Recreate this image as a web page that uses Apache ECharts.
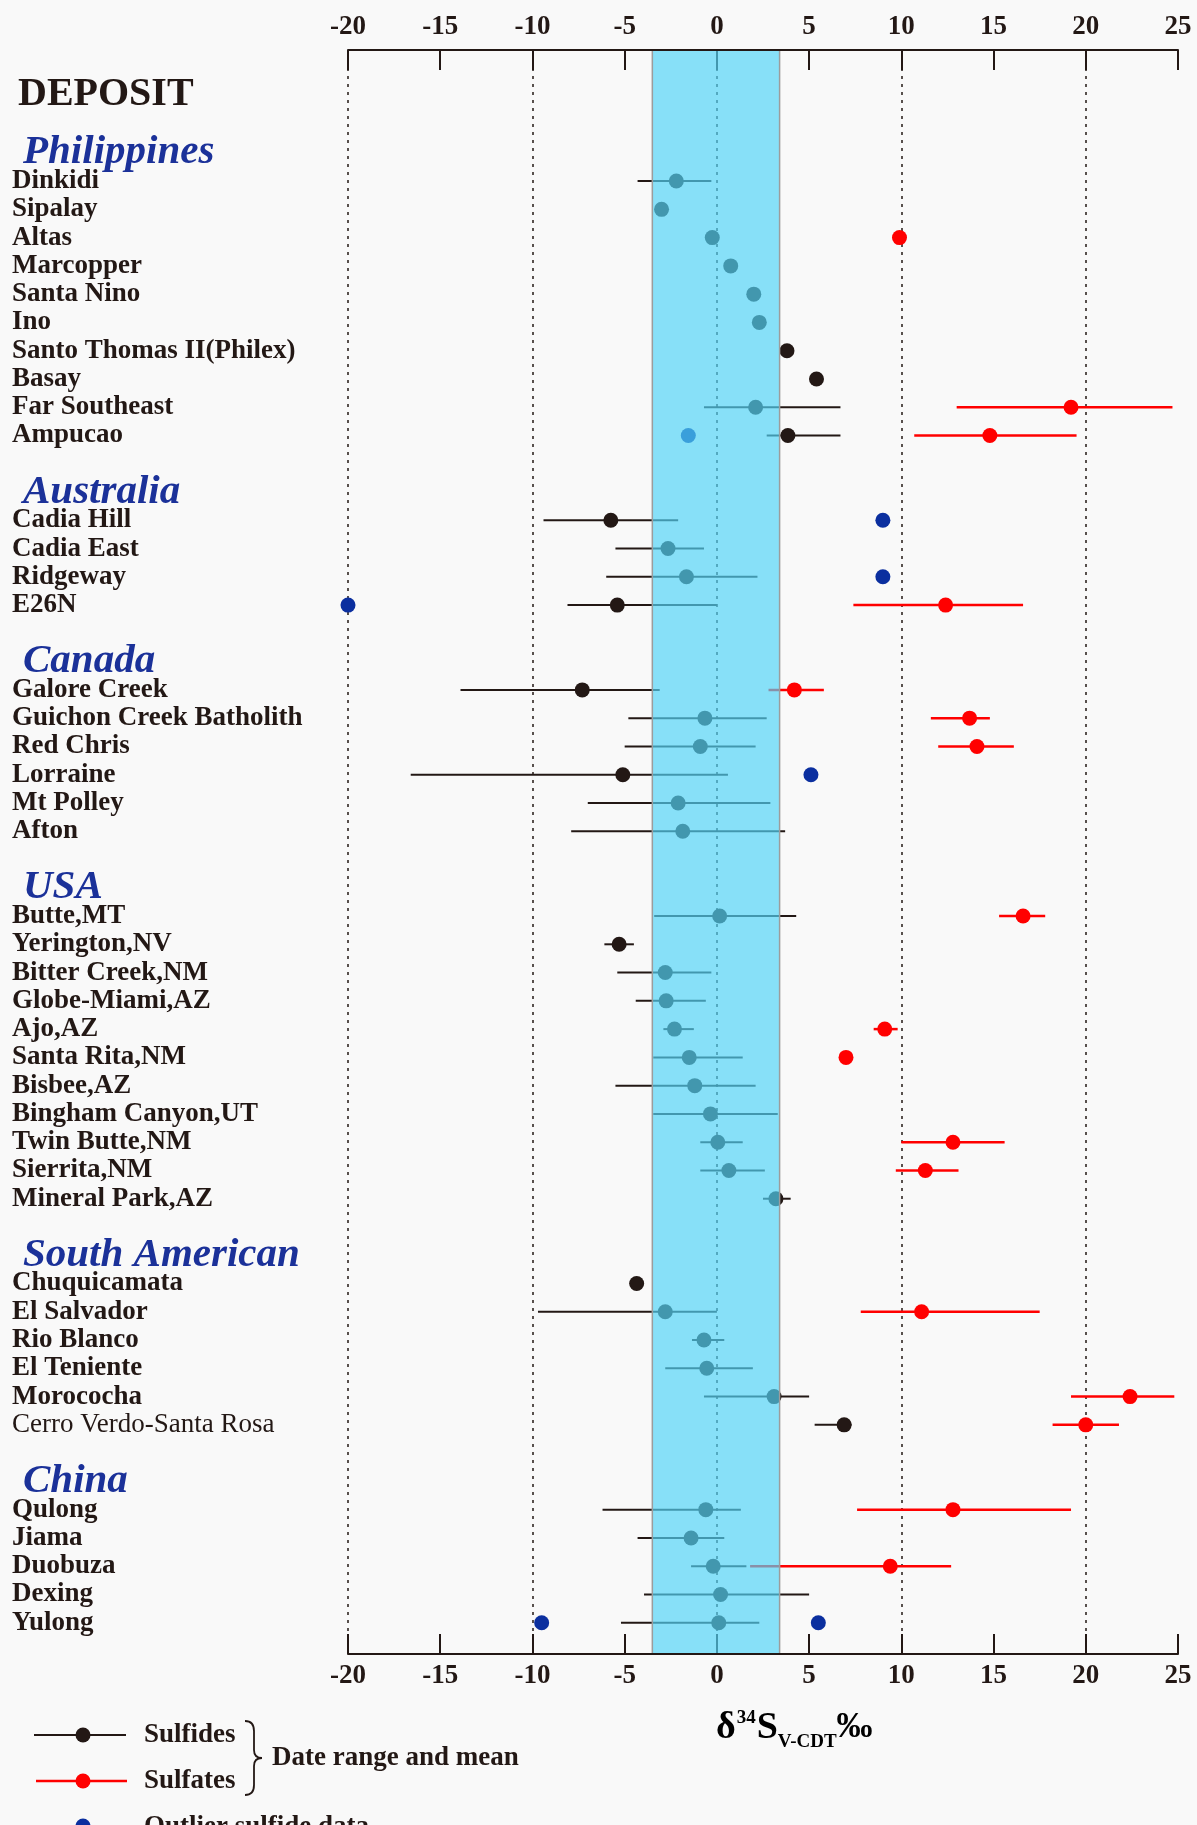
<!DOCTYPE html>
<html><head><meta charset="utf-8">
<script src="https://cdn.jsdelivr.net/npm/echarts@6/dist/echarts.min.js"></script>
<style>html,body{margin:0;padding:0;background:#f9f9f9}#c{width:1197px;height:1825px}</style>
</head><body><div id="c"></div><script>
// ---------- DATA ----------
const groupNames = ['Philippines', 'Australia', 'Canada', 'USA', 'South American', 'China'];
const philippines = ['Dinkidi', 'Sipalay', 'Altas', 'Marcopper', 'Santa Nino', 'Ino', 'Santo Thomas II(Philex)', 'Basay', 'Far Southeast', 'Ampucao'];
const australia = ['Cadia Hill', 'Cadia East', 'Ridgeway', 'E26N'];
const canada = ['Galore Creek', 'Guichon Creek Batholith', 'Red Chris', 'Lorraine', 'Mt Polley', 'Afton'];
const usa = ['Butte,MT', 'Yerington,NV', 'Bitter Creek,NM', 'Globe-Miami,AZ', 'Ajo,AZ', 'Santa Rita,NM', 'Bisbee,AZ', 'Bingham Canyon,UT', 'Twin Butte,NM', 'Sierrita,NM', 'Mineral Park,AZ'];
const southAmerican = ['Chuquicamata', 'El Salvador', 'Rio Blanco', 'El Teniente', 'Morococha', 'Cerro Verdo-Santa Rosa'];
const china = ['Qulong', 'Jiama', 'Duobuza', 'Dexing', 'Yulong'];
const regularWeightNames = ['Cerro Verdo-Santa Rosa'];

// sulfides (range min, mean, range max), same order as the deposit lists
const sulfideMin  = [-4.3, null, null, null, null, null, null, null, -0.7, 2.7,
                     -9.4, -5.5, -6.0, -8.1,
                     -13.9, -4.8, -5.0, -16.6, -7.0, -7.9,
                     -3.4, -6.1, -5.4, -4.4, -2.9, -3.45, -5.5, -3.45, -0.9, -0.9, 2.5,
                     null, -9.7, -1.35, -2.8, -0.7, 5.3,
                     -6.2, -4.3, -1.4, -3.95, -5.2];
const sulfideMean = [-2.2, -3.0, -0.25, 0.75, 2.0, 2.3, 3.8, 5.4, 2.1, 3.85,
                     -5.75, -2.65, -1.65, -5.4,
                     -7.3, -0.65, -0.9, -5.1, -2.1, -1.85,
                     0.15, -5.3, -2.8, -2.75, -2.3, -1.5, -1.2, -0.35, 0.05, 0.65, 3.2,
                     -4.35, -2.8, -0.7, -0.55, 3.1, 6.9,
                     -0.6, -1.4, -0.2, 0.2, 0.1];
const sulfideMax  = [-0.3, null, null, null, null, null, null, null, 6.7, 6.7,
                     -2.1, -0.7, 2.2, 0.0,
                     -3.1, 2.7, 2.1, 0.6, 2.9, 3.7,
                     4.3, -4.5, -0.3, -0.6, -1.25, 1.4, 2.1, 3.3, 1.4, 2.6, 4.0,
                     null, 0.0, 0.4, 1.95, 5.0, 7.3,
                     1.3, 0.4, 1.6, 5.0, 2.3];

// sulfates
const sulfateNames = ['Altas', 'Far Southeast', 'Ampucao', 'E26N', 'Galore Creek', 'Guichon Creek Batholith', 'Red Chris',
                      'Butte,MT', 'Ajo,AZ', 'Santa Rita,NM', 'Twin Butte,NM', 'Sierrita,NM',
                      'El Salvador', 'Morococha', 'Cerro Verdo-Santa Rosa', 'Qulong', 'Duobuza'];
const sulfateMin  = [null, 13.0, 10.7, 7.4, 2.8, 11.6, 12.0, 15.3, 8.5, null, 10.0, 9.7, 7.8, 19.2, 18.2, 7.6, 1.8];
const sulfateMean = [9.9, 19.2, 14.8, 12.4, 4.2, 13.7, 14.1, 16.6, 9.1, 7.0, 12.8, 11.3, 11.1, 22.4, 20.0, 12.8, 9.4];
const sulfateMax  = [null, 24.7, 19.5, 16.6, 5.8, 14.8, 16.1, 17.8, 9.8, null, 15.6, 13.1, 17.5, 24.8, 21.8, 19.2, 12.7];

// outlier sulfide data
const outlierNames  = ['Ampucao', 'Cadia Hill', 'Ridgeway', 'E26N', 'Lorraine', 'Yulong', 'Yulong'];
const outlierValues = [-1.55, 9.0, 9.0, -20, 5.1, -9.5, 5.5];

// shaded band and axis
const bandRange = [-3.5, 3.4];
const xMin = -20, xMax = 25, xStep = 5;

// ---------- BUILD ----------
const groupDeposits = [philippines, australia, canada, usa, southAmerican, china];
const deposits = groupDeposits.flat();
const categories = [];
let blankId = 0;
const blank = () => categories.push('#' + (blankId++));
blank(); blank(); blank();
groupNames.forEach((g, i) => {
  if (i > 0) blank();
  categories.push(g);
  groupDeposits[i].forEach(d => categories.push(d));
});
blank();

const FONT = "'Liberation Serif', 'Times New Roman', serif";
const INK = '#231815';
const RED = '#ff0000';
const BLUE = '#0b2f9f';

function rangeData(names, mins, maxs) {
  const out = [];
  names.forEach((n, i) => { if (mins[i] != null && maxs[i] != null) out.push([mins[i], maxs[i], n]); });
  return out;
}
function meanData(names, means) {
  const out = [];
  names.forEach((n, i) => { if (means[i] != null) out.push([means[i], n]); });
  return out;
}
function rangeSeries(data, color, width, z) {
  return {
    type: 'custom', coordinateSystem: 'cartesian2d', xAxisIndex: 0, yAxisIndex: 0, silent: true, z,
    dimensions: [{name: 'min', type: 'float'}, {name: 'max', type: 'float'}, {name: 'deposit', type: 'ordinal'}],
    encode: {x: [0, 1], y: 2},
    data,
    renderItem: (params, api) => {
      const y = api.value(2);
      const a = api.coord([api.value(0), y]);
      const b = api.coord([api.value(1), y]);
      return {type: 'line', shape: {x1: a[0], y1: a[1], x2: b[0], y2: b[1]}, style: {stroke: color, lineWidth: width}};
    }
  };
}

const chart = echarts.init(document.getElementById('c'), null, {renderer: 'canvas'});
const axisCommon = {
  type: 'value', min: xMin, max: xMax, interval: xStep,
  axisLine: {show: true, lineStyle: {color: INK, width: 2}},
  axisTick: {show: true, inside: true, length: 20, lineStyle: {color: INK, width: 2}},
  axisLabel: {fontFamily: FONT, fontWeight: 'bold', fontSize: 27, color: INK, margin: 9},
};
const braceStyle = {stroke: INK, fill: null, lineWidth: 1.8};
chart.setOption({
  backgroundColor: '#f9f9f9',
  animation: false,
  title: {text: 'DEPOSIT', left: 13, top: 70, textStyle: {fontFamily: FONT, fontWeight: 'bold', fontSize: 40, color: INK}},
  grid: {left: 348, right: 19, top: 68, bottom: 174},
  xAxis: [
    Object.assign({}, axisCommon, {position: 'bottom', offset: 3,
      splitLine: {show: true, lineStyle: {color: [INK, 'rgba(0,0,0,0)'], type: [3, 5], width: 1.5}}}),
    Object.assign({}, axisCommon, {position: 'top', offset: 18, splitLine: {show: false}})
  ],
  yAxis: {
    type: 'category', inverse: true, boundaryGap: false, data: categories,
    axisLine: {show: false}, axisTick: {show: false}, splitLine: {show: false},
    axisLabel: {
      interval: 0, align: 'left', margin: 336,
      formatter: v => {
        if (v.charAt(0) === '#') return '';
        if (groupNames.indexOf(v) >= 0) return '{g|' + v + '}';
        if (regularWeightNames.indexOf(v) >= 0) return '{r|' + v + '}';
        return '{d|' + v + '}';
      },
      rich: {
        d: {fontFamily: FONT, fontWeight: 'bold', fontSize: 27, color: INK},
        r: {fontFamily: FONT, fontWeight: 'normal', fontSize: 27, color: INK},
        g: {fontFamily: FONT, fontWeight: 'bold', fontStyle: 'italic', fontSize: 41, color: '#1b3199', padding: [0, 0, 0, 11]}
      }
    }
  },
  series: [
    rangeSeries(rangeData(deposits, sulfideMin, sulfideMax), INK, 2, 2),
    rangeSeries(rangeData(sulfateNames, sulfateMin, sulfateMax), RED, 2.5, 2),
    {type: 'scatter', name: 'Sulfides', data: meanData(deposits, sulfideMean), symbolSize: 15, itemStyle: {color: INK, opacity: 1}, z: 3, silent: true},
    {type: 'scatter', name: 'Sulfates', data: meanData(sulfateNames, sulfateMean), symbolSize: 15, itemStyle: {color: RED, opacity: 1}, z: 3, silent: true},
    {type: 'scatter', name: 'Outlier sulfide data', data: meanData(outlierNames, outlierValues), symbolSize: 15, itemStyle: {color: BLUE, opacity: 1}, z: 3, silent: true},
    {
      type: 'custom', coordinateSystem: 'cartesian2d', silent: true, z: 10, clip: false,
      dimensions: [{name: 'lo', type: 'float'}, {name: 'hi', type: 'float'}, {name: 'row', type: 'ordinal'}],
      encode: {x: [0, 1], y: 2},
      data: [[bandRange[0], bandRange[1], categories[0]]],
      renderItem: (params, api) => {
        const cs = params.coordSys;
        const x0 = api.coord([api.value(0), 0])[0];
        const x1 = api.coord([api.value(1), 0])[0];
        const top = cs.y - 17, bottom = cs.y + cs.height + 2;
        return {type: 'group', children: [
          {type: 'rect', shape: {x: x0, y: top, width: x1 - x0, height: bottom - top}, style: {fill: 'rgba(81,212,247,0.68)'}},
          {type: 'line', shape: {x1: x0, y1: top, x2: x0, y2: bottom}, style: {stroke: '#9c9c9c', lineWidth: 1.5}},
          {type: 'line', shape: {x1: x1, y1: top, x2: x1, y2: bottom}, style: {stroke: '#9c9c9c', lineWidth: 1.5}}
        ]};
      }
    }
  ],
  graphic: [
    {type: 'text', style: {x: 716, y: 1728, verticalAlign: 'middle', align: 'left',
      text: '{a|δ}{sup|34}{a|S}{sub|V-CDT}{b|‰}',
      rich: {
        a: {fontFamily: FONT, fontWeight: 'bold', fontSize: 38, color: INK, lineHeight: 48},
        b: {fontFamily: FONT, fontWeight: 'bold', fontSize: 36, color: INK, lineHeight: 48},
        sup: {fontFamily: FONT, fontWeight: 'bold', fontSize: 19, color: INK, lineHeight: 48, verticalAlign: 'top', padding: [5, 1, 0, 1]},
        sub: {fontFamily: FONT, fontWeight: 'bold', fontSize: 19, color: INK, lineHeight: 48, verticalAlign: 'bottom'}
      }}},
    {type: 'line', shape: {x1: 34, y1: 1735, x2: 126, y2: 1735}, style: {stroke: INK, lineWidth: 2}},
    {type: 'circle', shape: {cx: 83, cy: 1735, r: 7.5}, style: {fill: INK}},
    {type: 'text', style: {x: 144, y: 1735, verticalAlign: 'middle', text: 'Sulfides', font: "bold 27px 'Liberation Serif', serif", fill: INK}},
    {type: 'line', shape: {x1: 36, y1: 1781, x2: 127, y2: 1781}, style: {stroke: RED, lineWidth: 2.5}},
    {type: 'circle', shape: {cx: 83, cy: 1781, r: 7.5}, style: {fill: RED}},
    {type: 'text', style: {x: 144, y: 1781, verticalAlign: 'middle', text: 'Sulfates', font: "bold 27px 'Liberation Serif', serif", fill: INK}},
    {type: 'bezierCurve', shape: {x1: 245, y1: 1721, cpx1: 254, cpy1: 1721, x2: 254, y2: 1731}, style: braceStyle},
    {type: 'line', shape: {x1: 254, y1: 1731, x2: 254, y2: 1750}, style: braceStyle},
    {type: 'bezierCurve', shape: {x1: 254, y1: 1750, cpx1: 254, cpy1: 1758, x2: 262, y2: 1758}, style: braceStyle},
    {type: 'bezierCurve', shape: {x1: 262, y1: 1758, cpx1: 254, cpy1: 1758, x2: 254, y2: 1766}, style: braceStyle},
    {type: 'line', shape: {x1: 254, y1: 1766, x2: 254, y2: 1785}, style: braceStyle},
    {type: 'bezierCurve', shape: {x1: 254, y1: 1785, cpx1: 254, cpy1: 1795, x2: 245, y2: 1795}, style: braceStyle},
    {type: 'text', style: {x: 272, y: 1758, verticalAlign: 'middle', text: 'Date range and mean', font: "bold 27px 'Liberation Serif', serif", fill: INK}},
    {type: 'circle', shape: {cx: 83, cy: 1826, r: 7.5}, style: {fill: BLUE}},
    {type: 'text', style: {x: 144, y: 1827, verticalAlign: 'middle', text: 'Outlier sulfide data', font: "bold 27px 'Liberation Serif', serif", fill: INK}}
  ]
});
</script></body></html>
